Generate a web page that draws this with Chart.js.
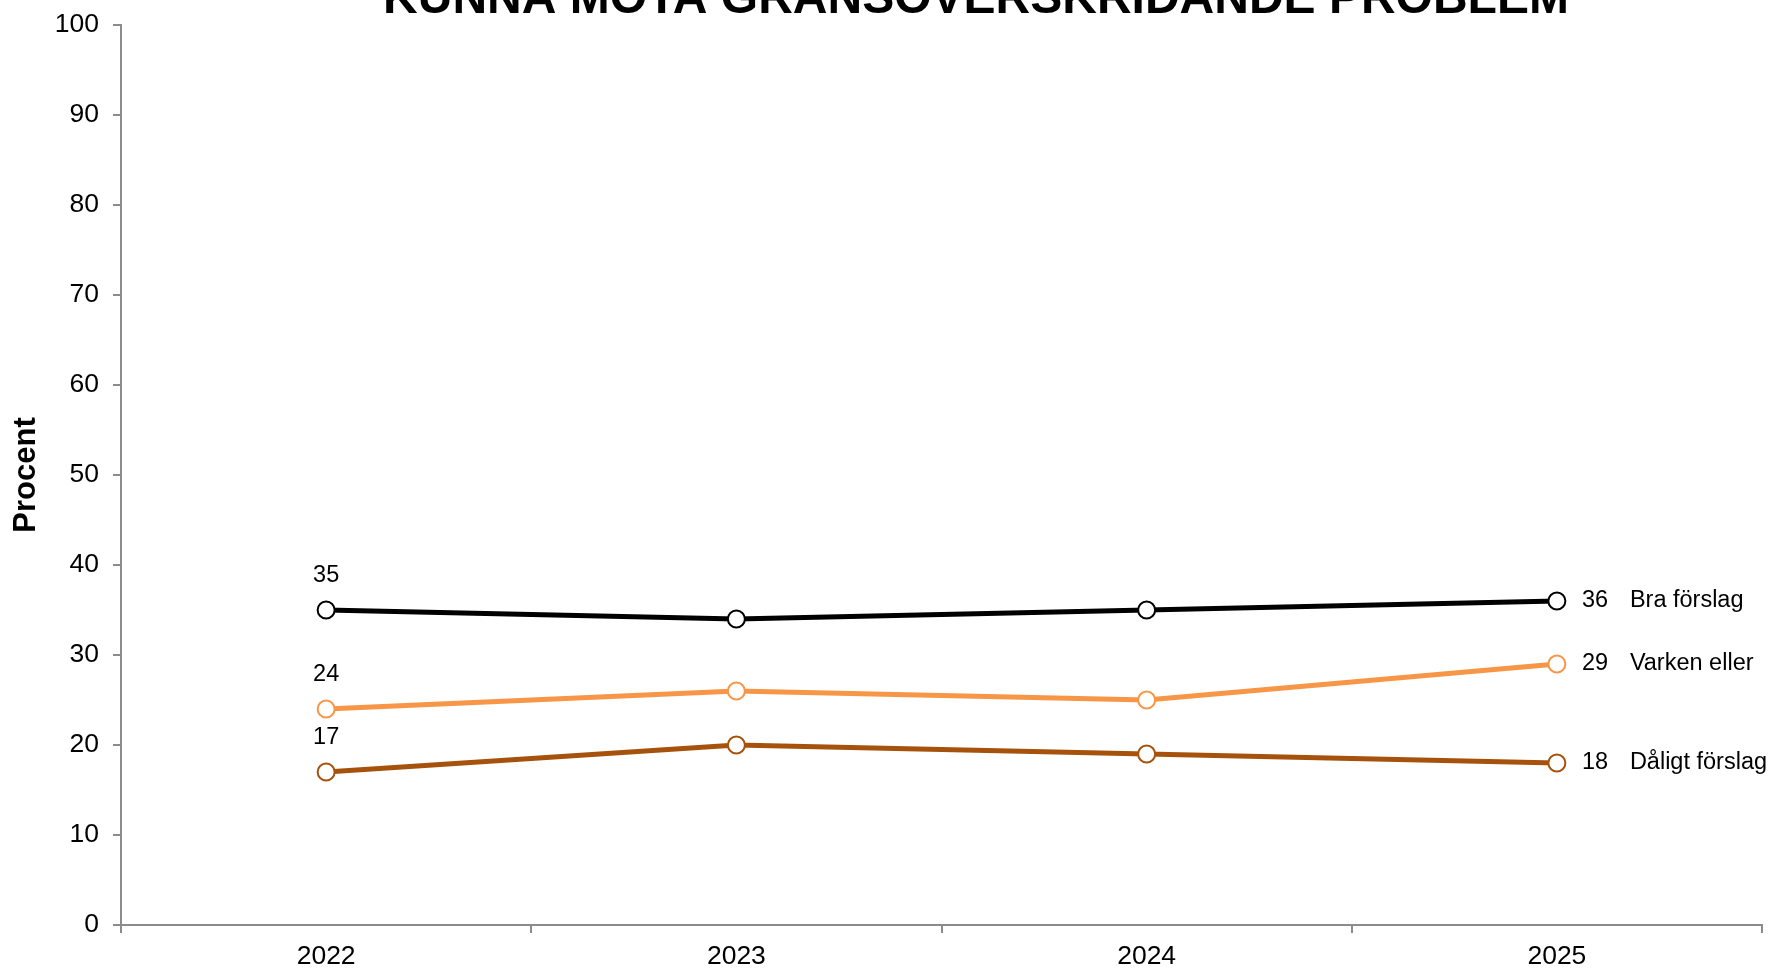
<!DOCTYPE html>
<html lang="sv">
<head>
<meta charset="utf-8">
<title>Kunna möta gränsöverskridande problem</title>
<script src="https://cdn.jsdelivr.net/npm/chart.js@4.4.1/dist/chart.umd.min.js"></script>
<style>
  html, body { margin: 0; padding: 0; background: #fff; }
  #wrap { width: 1773px; height: 969px; }
</style>
</head>
<body>
<div id="wrap"><canvas id="grafico" width="1773" height="969"></canvas></div>
<script>
// Data
const ar = ['2022', '2023', '2024', '2025'];
const braForslag = [35, 34, 35, 36];
const varkenEller = [24, 26, 25, 29];
const daligtForslag = [17, 20, 19, 18];
const serieNamn = ['Bra förslag', 'Varken eller', 'Dåligt förslag'];
const yTicks = [0, 10, 20, 30, 40, 50, 60, 70, 80, 90, 100];
const rubrik = 'KUNNA MÖTA GRÄNSÖVERSKRIDANDE PROBLEM';

const farger = ['#000000', '#F79646', '#A6520C'];
const typsnitt = '"Liberation Sans", Arial, sans-serif';

function serie(namn, data, farg) {
    return {
        label: namn,
        data: data,
        borderColor: farg,
        backgroundColor: farg,
        borderWidth: 5,
        tension: 0,
        pointRadius: 8.5,
        pointHoverRadius: 8.5,
        pointBorderWidth: 2,
        pointBackgroundColor: '#ffffff',
        pointBorderColor: farg
    };
}

// Rubrik och etiketter ritas för hand
const etiketter = {
    id: 'etiketter',
    afterDatasetsDraw(chart) {
        const ctx = chart.ctx;
        ctx.save();
        ctx.fillStyle = '#000';
        chart.data.datasets.forEach((ds, i) => {
            const meta = chart.getDatasetMeta(i);
            const forsta = meta.data[0];
            const sista = meta.data[meta.data.length - 1];
            ctx.font = '23.5px ' + typsnitt;
            ctx.textAlign = 'center';
            ctx.textBaseline = 'middle';
            ctx.fillText(String(ds.data[0]), forsta.x, forsta.y - 34);
            ctx.textAlign = 'left';
            ctx.fillText(String(ds.data[ds.data.length - 1]), sista.x + 25, sista.y);
            ctx.fillText(ds.label, sista.x + 73, sista.y);
        });
        // rubriken, avskuren i överkanten
        ctx.font = 'bold 48px ' + typsnitt;
        ctx.textAlign = 'center';
        ctx.textBaseline = 'alphabetic';
        ctx.fillText(rubrik, 976, 13);
        ctx.restore();
    }
};

const ctx = document.getElementById('grafico').getContext('2d');
const chart = new Chart(ctx, {
    type: 'line',
    data: {
        labels: ar,
        datasets: [
            serie(serieNamn[0], braForslag, farger[0]),
            serie(serieNamn[1], varkenEller, farger[1]),
            serie(serieNamn[2], daligtForslag, farger[2])
        ]
    },
    options: {
        responsive: false,
        animation: false,
        layout: { padding: { top: 25, right: 11, bottom: 0, left: 0 } },
        plugins: {
            legend: { display: false },
            tooltip: { enabled: false },
            title: { display: false }
        },
        scales: {
            x: {
                offset: true,
                grid: { display: true, offset: true, drawOnChartArea: false, tickLength: 8, color: '#8c8c8c', lineWidth: 2 },
                border: { color: '#8c8c8c', width: 2 },
                ticks: { color: '#000', font: { family: typsnitt, size: 26.5 }, padding: 8, maxRotation: 0 },
                afterFit(scale) {
                    scale.height = 44;
                    scale.paddingLeft = 0;
                    scale.paddingRight = 0;
                }
            },
            y: {
                min: 0,
                max: 100,
                afterBuildTicks(scale) { scale.ticks = yTicks.map(v => ({ value: v })); },
                grid: { display: true, drawOnChartArea: false, tickLength: 8, color: '#8c8c8c', lineWidth: 2 },
                border: { color: '#8c8c8c', width: 2 },
                ticks: { color: '#000', font: { family: typsnitt, size: 26.5 }, padding: 14 },
                title: {
                    display: true,
                    text: 'Procent',
                    color: '#000',
                    font: { family: typsnitt, size: 31, weight: 'bold' },
                    padding: { top: 8, bottom: 0 }
                },
                afterFit(scale) {
                    scale.width = 121;
                    scale.paddingTop = 0;
                    scale.paddingBottom = 0;
                }
            }
        }
    },
    plugins: [etiketter]
});
</script>
</body>
</html>
